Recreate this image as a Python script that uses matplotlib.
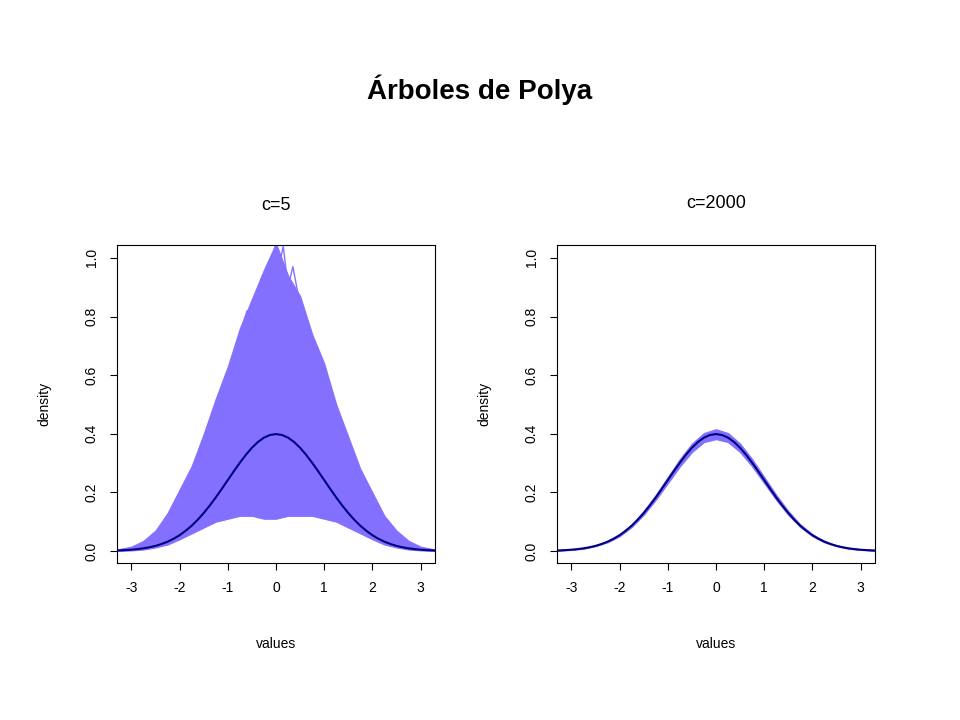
import matplotlib
matplotlib.use("Agg")
import matplotlib.pyplot as plt

plt.rcParams['font.family'] = ['Liberation Sans', 'DejaVu Sans']

x = [-3.3, -3.0, -2.75, -2.5, -2.25, -2.0, -1.75, -1.5, -1.25, -1.0, -0.75, -0.5, -0.25, 0.0,
     0.25, 0.5, 0.75, 1.0, 1.25, 1.5, 1.75, 2.0, 2.25, 2.5, 2.75, 3.0, 3.3]
half_x = [0, 0.125, 0.25, 0.375, 0.5, 0.625, 0.75, 0.875, 1, 1.125, 1.25, 1.375, 1.5, 1.625, 1.75,
          1.875, 2, 2.125, 2.25, 2.375, 2.5, 2.625, 2.75, 2.875, 3, 3.125, 3.3]
half_normal = [.3989, .3958, .3867, .3719, .3521, .3282, .3011, .2721, .2420, .2119, .1826, .1550, .1295,
               .1065, .0863, .0689, .0540, .0417, .0317, .0238, .0175, .0127, .0091, .0064, .0044, .0030, .0017]
c5_upper = [0.005, 0.015, 0.035, 0.07, 0.13, 0.21, 0.29, 0.40, 0.52, 0.63, 0.76, 0.86, 0.96, 1.05,
            0.94, 0.87, 0.74, 0.64, 0.50, 0.39, 0.28, 0.20, 0.12, 0.07, 0.035, 0.015, 0.005]
c5_lower = [0.0, 0.002, 0.005, 0.012, 0.022, 0.04, 0.06, 0.08, 0.10, 0.11, 0.12, 0.12, 0.11, 0.11,
            0.12, 0.12, 0.12, 0.11, 0.10, 0.08, 0.06, 0.04, 0.022, 0.012, 0.005, 0.002, 0.0]
c5_peaks_x = [-0.9, -0.6, -0.45, -0.3, -0.2, -0.1, 0.0, 0.05, 0.15, 0.25, 0.35, 0.5, 0.6, 0.9]
c5_peaks_y = [0.66, 0.82, 0.78, 0.93, 0.85, 0.98, 1.05, 0.96, 1.04, 0.90, 0.97, 0.84, 0.80, 0.66]
c2000_upper = [0.002, 0.005, 0.010, 0.019, 0.034, 0.057, 0.090, 0.136, 0.191, 0.252, 0.313, 0.366, 0.402, 0.415,
               0.402, 0.366, 0.313, 0.252, 0.191, 0.136, 0.090, 0.057, 0.034, 0.019, 0.010, 0.005, 0.002]
c2000_lower = [0.0014, 0.004, 0.008, 0.017, 0.030, 0.051, 0.082, 0.124, 0.175, 0.232, 0.289, 0.338, 0.372, 0.382,
               0.372, 0.338, 0.289, 0.232, 0.175, 0.124, 0.082, 0.051, 0.030, 0.017, 0.008, 0.004, 0.0014]

nx = [-v for v in half_x[::-1]] + half_x[1:]
ny = half_normal[::-1] + half_normal[1:]

band = '#8470FF'
fig = plt.figure(figsize=(9.6, 7.2), dpi=100)
fig.text(0.5, 0.875, 'Árboles de Polya', ha='center', va='center', fontsize=20, fontweight='bold')

def setup(ax, title, ty):
    ax.set_xlim(-3.3, 3.3)
    ax.set_ylim(-0.041, 1.044)
    ax.set_xticks([-3, -2, -1, 0, 1, 2, 3])
    ax.set_xticklabels(['-3', '-2', '-1', '0', '1', '2', '3'])
    ax.set_yticks([0, 0.2, 0.4, 0.6, 0.8, 1.0])
    ax.set_yticklabels(['0.0', '0.2', '0.4', '0.6', '0.8', '1.0'], rotation=90, va='center')
    ax.tick_params(labelsize=10, length=5, pad=8)
    ax.set_xlabel('values', fontsize=10, labelpad=30)
    ax.set_ylabel('density', fontsize=10, labelpad=24)
    fig.text((ax.get_position().x0 + ax.get_position().x1) / 2, ty, title, ha='center', va='center', fontsize=13)

ax1 = fig.add_axes([117/960, 1-563/720, 318/960, 318/720])
ax1.fill_between(x, c5_lower, c5_upper, color=band, linewidth=0.8)
ax1.plot(c5_peaks_x, c5_peaks_y, color=band, linewidth=1)
ax1.plot(nx, ny, color='#000080', linewidth=1.5)
setup(ax1, 'c=5', 1-206/720)

ax2 = fig.add_axes([557/960, 1-563/720, 318/960, 318/720])
ax2.fill_between(x, c2000_lower, c2000_upper, color=band, linewidth=1)
ax2.plot(nx, ny, color='#000080', linewidth=1.5)
setup(ax2, 'c=2000', 1-204/720)

fig.savefig('out.png', dpi=100)
